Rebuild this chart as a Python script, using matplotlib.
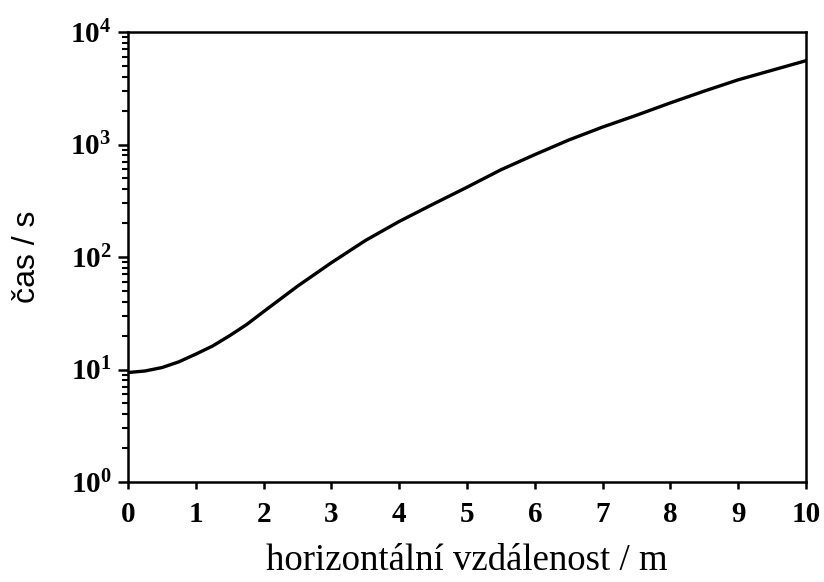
import matplotlib
matplotlib.use("Agg")
import matplotlib.pyplot as plt
from matplotlib.ticker import LogLocator, FixedLocator, NullFormatter

# data
distance_m = [0, 0.25, 0.5, 0.75, 1, 1.25, 1.5, 1.75, 2, 2.5, 3, 3.5, 4, 4.5, 5,
              5.5, 6, 6.5, 7, 7.5, 8, 8.5, 9, 9.5, 10]
time_s = [9.4, 9.7, 10.4, 11.7, 13.7, 16.2, 20.0, 25.1, 32.7, 55.0, 89, 140, 207, 295, 417,
          596, 813, 1096, 1429, 1820, 2344, 2985, 3758, 4571, 5560]

x_ticks = [0, 1, 2, 3, 4, 5, 6, 7, 8, 9, 10]
y_ticks = [1, 10, 100, 1000, 10000]
y_tick_labels = [r"$\mathbf{10^{0}}$", r"$\mathbf{10^{1}}$", r"$\mathbf{10^{2}}$", r"$\mathbf{10^{3}}$", r"$\mathbf{10^{4}}$"]

plt.rcParams["font.family"] = ["Liberation Serif", "DejaVu Serif"]
plt.rcParams["mathtext.fontset"] = "custom"
plt.rcParams["mathtext.rm"] = "Liberation Serif"
plt.rcParams["mathtext.bf"] = "Liberation Serif:bold"

fig = plt.figure(figsize=(8.24, 5.82), dpi=100)
ax = fig.add_axes([128/824, 1 - 482/582, (806-128)/824, (482-32)/582])

ax.plot(distance_m, time_s, color="black", lw=2.4, solid_joinstyle="round", solid_capstyle="round")
ax.set_yscale("log")
ax.set_xlim(0, 10)
ax.set_ylim(1, 10000)

ax.xaxis.set_major_locator(FixedLocator(x_ticks))
ax.set_xticklabels([str(t) for t in x_ticks], fontsize=21, fontweight="bold")
ax.yaxis.set_major_locator(FixedLocator(y_ticks))
ax.set_yticklabels(y_tick_labels, fontsize=21)
ax.yaxis.set_minor_locator(LogLocator(base=10, subs=range(2, 10)))
ax.yaxis.set_minor_formatter(NullFormatter())

for s in ax.spines.values():
    s.set_linewidth(1.8)
ax.tick_params(axis="x", which="major", direction="out", length=5, width=1.8, pad=9)
ax.tick_params(axis="y", which="major", direction="out", length=7, width=1.8, pad=5)
ax.tick_params(axis="y", which="minor", direction="out", length=4, width=1.5)

ax.set_xlabel("horizontální vzdálenost / m", fontsize=26.5, labelpad=11)
ax.set_ylabel("čas / s", fontsize=23, labelpad=20, family=["Liberation Sans", "DejaVu Sans"])

fig.savefig("out.png", dpi=100)
